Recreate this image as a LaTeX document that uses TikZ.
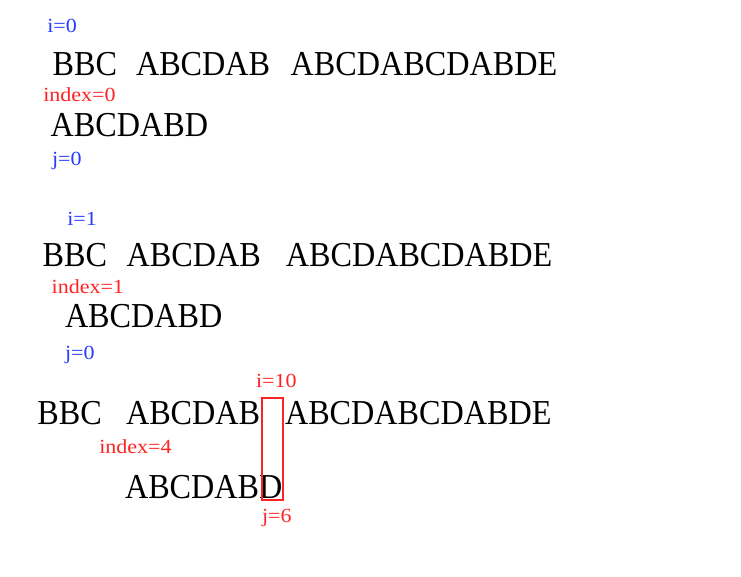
\documentclass[tikz,border=0pt]{standalone}
\usepackage{fontspec}
\setmainfont{Liberation Serif}
\newfontfamily\bigfont[FakeStretch=0.92]{Liberation Serif}
\newfontfamily\labfont[FakeStretch=1.1]{Liberation Serif}
\definecolor{labblue}{RGB}{35,60,255}
\definecolor{labred}{RGB}{255,35,35}
\begin{document}
\begin{tikzpicture}[x=1pt,y=-1pt,
  word/.style={anchor=base west,inner sep=0pt,outer sep=0pt,font=\bigfont\fontsize{35}{40}\selectfont,text=black},
  blab/.style={anchor=base west,inner sep=0pt,outer sep=0pt,font=\labfont\fontsize{20}{24}\selectfont,text=labblue},
  rlab/.style={anchor=base west,inner sep=0pt,outer sep=0pt,font=\labfont\fontsize{20}{24}\selectfont,text=labred},
  hilite/.style={draw=labred,line width=2pt,inner sep=0pt,minimum width=21.3pt,minimum height=102.3pt}]
\useasboundingbox[fill=white] (0,0) rectangle (741,577);
% row 1
\node[blab] (i0) at (47.3,32.3) {i=0};
\node[word] (r1a) at (52.7,75.7) {BBC};
\node[word] (r1b) at (136,75.7) {ABCDAB};
\node[word] (r1c) at (290.7,75.7) {ABCDABCDABDE};
\node[rlab] (idx0) at (43.3,102) {index=0};
\node[word] (p1) at (50.7,136.7) {ABCDABD};
\node[blab] (j0a) at (52,166) {j=0};
% row 2
\node[blab] (i1) at (67.3,226) {i=1};
\node[word] (r2a) at (42.7,266) {BBC};
\node[word] (r2b) at (126.7,266) {ABCDAB};
\node[word] (r2c) at (285.8,266) {ABCDABCDABDE};
\node[rlab] (idx1) at (51.7,293.3) {index=1};
\node[word] (p2) at (65,327.7) {ABCDABD};
\node[blab] (j0b) at (65,359.3) {j=0};
% row 3
\node[rlab] (i10) at (256,387.3) {i=10};
\node[word] (r3a) at (37.3,424.3) {BBC};
\node[word] (r3b) at (126,424.3) {ABCDAB};
\node[word] (r3c) at (285,424.3) {ABCDABCDABDE};
\node[rlab] (idx4) at (99.3,453.3) {index=4};
\node[word] (p3) at (125,498.5) {ABCDABD};
\node[rlab] (j6) at (262,522.7) {j=6};
\node[hilite] (box) at (272.65,448.85) {};
\end{tikzpicture}
\end{document}
